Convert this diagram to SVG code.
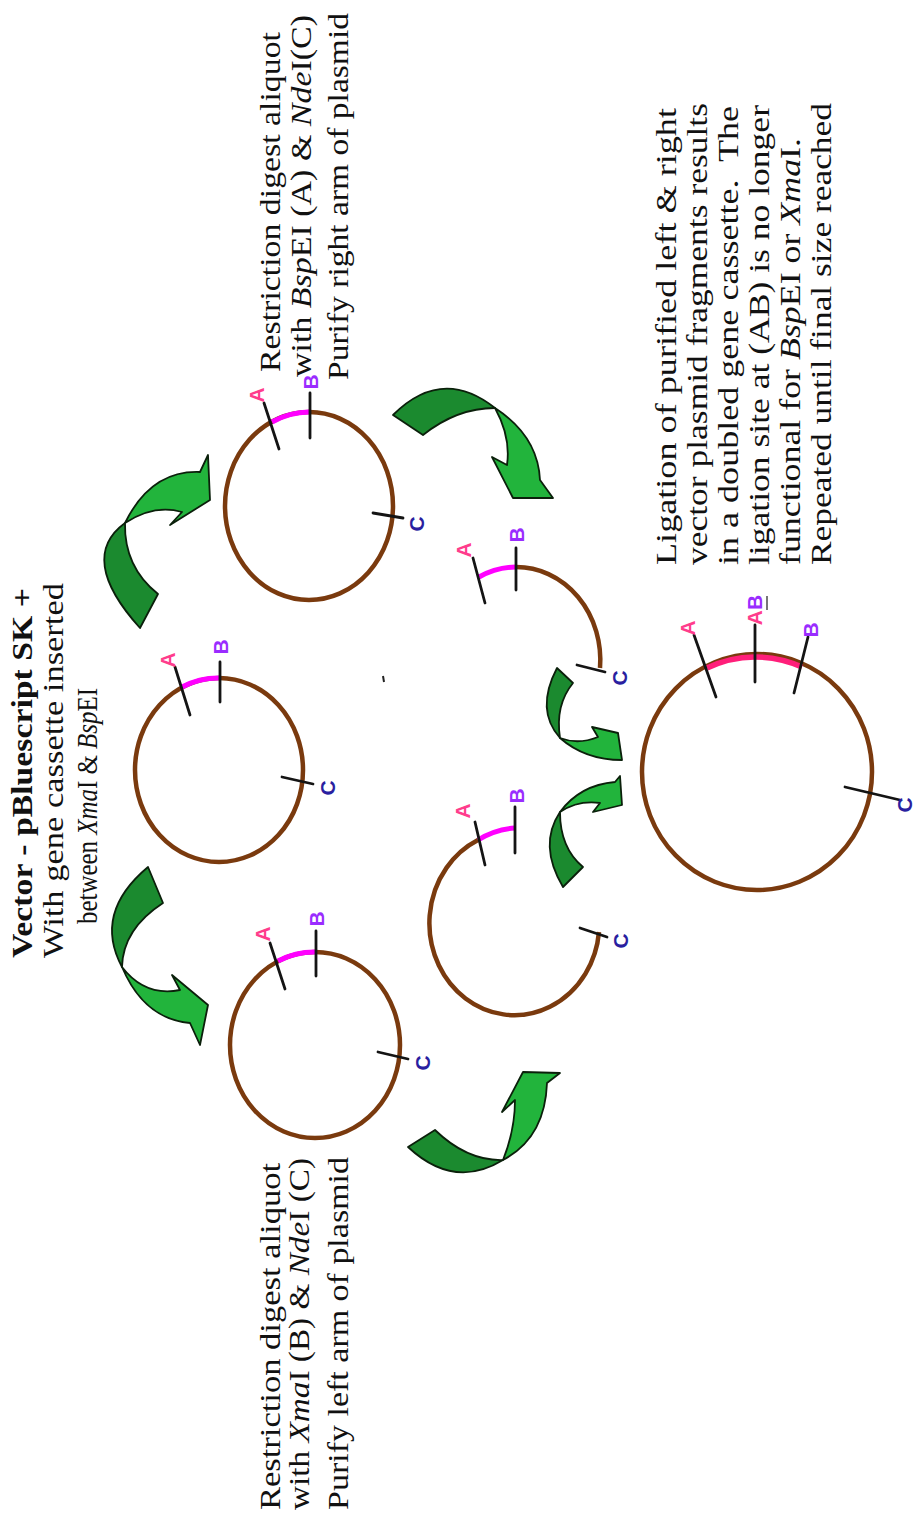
<svg xmlns="http://www.w3.org/2000/svg" width="913" height="1515" viewBox="0 0 913 1515">
<style>
.ring{fill:none;stroke:#7a3a0e;stroke-width:4.5}
.ins{fill:none;stroke:#ff00ff;stroke-width:5}
.ins2{fill:none;stroke:#ff1f7a;stroke-width:5.5}
.tick{stroke:#141414;stroke-width:2.8;stroke-linecap:round}
.lbl{font-family:"Liberation Sans",Arial,sans-serif;font-size:21px;font-weight:bold;text-anchor:middle;dominant-baseline:central}
.la{fill:#ff3c8c}
.lb{fill:#9a2cff}
.lc{fill:#2a1fa0}
.t{font-family:"Liberation Serif","Times New Roman",serif;font-size:30px;fill:#111}
.tr{font-family:"Liberation Serif","Times New Roman",serif;font-size:29px;fill:#111}
.b{font-weight:bold}
.i{font-style:italic}
.dk{fill:#1b8a2f;stroke:#0b200b;stroke-width:1.8;stroke-linejoin:round}
.lt{fill:#22b43c;stroke:#0b200b;stroke-width:1.8;stroke-linejoin:round}
</style>

<g id="text-vector">
<text class="t b" transform="translate(32,958) rotate(-90)" textLength="370" lengthAdjust="spacingAndGlyphs">Vector - pBluescript SK +</text>
<text class="t" transform="translate(63,958) rotate(-90)" textLength="375" lengthAdjust="spacingAndGlyphs">With gene cassette inserted</text>
<text class="t" transform="translate(97,924) rotate(-90)" textLength="236" lengthAdjust="spacingAndGlyphs">between <tspan class="i">Xma</tspan>I &amp; <tspan class="i">Bsp</tspan>EI</text>
</g>

<g id="text-right-arm">
<text class="t" transform="translate(280,372) rotate(-90)" textLength="340" lengthAdjust="spacingAndGlyphs">Restriction  digest aliquot</text>
<text class="t" transform="translate(311,377) rotate(-90)" textLength="362" lengthAdjust="spacingAndGlyphs">with <tspan class="i">Bsp</tspan>EI (A) &amp; <tspan class="i">Nde</tspan>I(C)</text>
<text class="t" transform="translate(348,380) rotate(-90)" textLength="367" lengthAdjust="spacingAndGlyphs">Purify right arm of plasmid</text>
</g>

<g id="text-left-arm">
<text class="t" transform="translate(280,1510) rotate(-90)" textLength="347" lengthAdjust="spacingAndGlyphs">Restriction digest aliquot</text>
<text class="t" transform="translate(309,1510) rotate(-90)" textLength="352" lengthAdjust="spacingAndGlyphs">with <tspan class="i">Xma</tspan>I (B) &amp; <tspan class="i">Nde</tspan>I (C)</text>
<text class="t" transform="translate(348,1510) rotate(-90)" textLength="353" lengthAdjust="spacingAndGlyphs">Purify left arm of plasmid</text>
</g>

<g id="text-ligation">
<text class="tr" transform="translate(676,565) rotate(-90)" textLength="457" lengthAdjust="spacingAndGlyphs">Ligation of purified left &amp; right</text>
<text class="tr" transform="translate(707,565) rotate(-90)" textLength="462" lengthAdjust="spacingAndGlyphs">vector plasmid fragments results</text>
<text class="tr" transform="translate(738,565) rotate(-90)" textLength="459" lengthAdjust="spacingAndGlyphs">in a doubled gene cassette.&#160; The</text>
<text class="tr" transform="translate(769,565) rotate(-90)" textLength="460" lengthAdjust="spacingAndGlyphs">ligation site at (AB) is no longer</text>
<text class="tr" transform="translate(800,565) rotate(-90)" textLength="427" lengthAdjust="spacingAndGlyphs">functional for <tspan class="i">Bsp</tspan>EI or <tspan class="i">Xma</tspan>I.</text>
<text class="tr" transform="translate(831,565) rotate(-90)" textLength="462" lengthAdjust="spacingAndGlyphs">Repeated  until final size reached</text>
</g>

<g id="plasmid-vector">
<ellipse class="ring" cx="219" cy="770" rx="84" ry="92"/>
<path class="ins" d="M182,687 A84,92 0 0,1 219,678"/>
<line class="tick" x1="175" y1="667" x2="190" y2="715"/>
<line class="tick" x1="220" y1="662" x2="220" y2="702"/>
<line class="tick" x1="282" y1="777" x2="313" y2="784"/>
<text class="lbl la" transform="translate(167,660) rotate(-90)">A</text>
<text class="lbl lb" transform="translate(220,647) rotate(-90)">B</text>
<text class="lbl lc" transform="translate(327,788) rotate(-90)">C</text>
</g>

<g id="plasmid-right-digest">
<ellipse class="ring" cx="309" cy="506" rx="84" ry="94"/>
<path class="ins" d="M272,422 A84,94 0 0,1 309,412"/>
<line class="tick" x1="264" y1="403" x2="279" y2="449"/>
<line class="tick" x1="310" y1="393" x2="310" y2="438"/>
<line class="tick" x1="373" y1="513" x2="403" y2="518"/>
<text class="lbl la" transform="translate(256,395) rotate(-90)">A</text>
<text class="lbl lb" transform="translate(310,382) rotate(-90)">B</text>
<text class="lbl lc" transform="translate(416,524) rotate(-90)">C</text>
</g>

<g id="plasmid-left-digest">
<ellipse class="ring" cx="315" cy="1045" rx="85" ry="93"/>
<path class="ins" d="M278,961 A85,93 0 0,1 315,952"/>
<line class="tick" x1="270" y1="943" x2="285" y2="989"/>
<line class="tick" x1="316" y1="931" x2="316" y2="976"/>
<line class="tick" x1="378" y1="1052" x2="408" y2="1059"/>
<text class="lbl la" transform="translate(262,934) rotate(-90)">A</text>
<text class="lbl lb" transform="translate(316,919) rotate(-90)">B</text>
<text class="lbl lc" transform="translate(422,1063) rotate(-90)">C</text>
</g>

<g id="fragment-right-arm">
<path class="ins" d="M479,577 A84,93 0 0,1 516,567"/>
<path class="ring" d="M516,567 A84,93 0 0,1 600,668"/>
<line class="tick" x1="473" y1="558" x2="485" y2="603"/>
<line class="tick" x1="516" y1="548" x2="516" y2="590"/>
<line class="tick" x1="577" y1="665" x2="605" y2="672"/>
<text class="lbl la" transform="translate(463,550) rotate(-90)">A</text>
<text class="lbl lb" transform="translate(516,535) rotate(-90)">B</text>
<text class="lbl lc" transform="translate(619,678) rotate(-90)">C</text>
</g>

<g id="fragment-left-arm">
<path class="ins" d="M478,840 A85,92 0 0,1 515,828"/>
<path class="ring" d="M478,840 A85,92 0 1,0 599,932"/>
<line class="tick" x1="475" y1="822" x2="485" y2="865"/>
<line class="tick" x1="515" y1="807" x2="515" y2="853"/>
<line class="tick" x1="580" y1="928" x2="607" y2="937"/>
<text class="lbl la" transform="translate(462,811) rotate(-90)">A</text>
<text class="lbl lb" transform="translate(516,796) rotate(-90)">B</text>
<text class="lbl lc" transform="translate(620,941) rotate(-90)">C</text>
</g>

<g id="plasmid-doubled">
<ellipse class="ring" cx="757" cy="772" rx="115" ry="118"/>
<path class="ins2" d="M707,668 A115,118 0 0,1 802,667"/>
<line class="tick" x1="694" y1="635" x2="716" y2="697"/>
<line class="tick" x1="755" y1="625" x2="755" y2="682"/>
<line class="tick" x1="808" y1="637" x2="794" y2="693"/>
<line class="tick" x1="845" y1="787" x2="900" y2="800"/>
<text class="lbl la" transform="translate(687,628) rotate(-90)">A</text>
<text class="lbl" transform="translate(754,610) rotate(-90)"><tspan fill="#ff3c8c">A</tspan><tspan fill="#9a2cff">B</tspan></text>
<line x1="767" y1="596" x2="767" y2="610" stroke="#555" stroke-width="1.6"/>
<text class="lbl lb" transform="translate(810,630) rotate(-90)">B</text>
<text class="lbl lc" transform="translate(904,805) rotate(-90)">C</text>
</g>

<g id="mark">
<line x1="383" y1="676" x2="384" y2="682" stroke="#222" stroke-width="2"/>
</g>

<g id="connectors">
<g id="arrow-vector-to-right">
<path class="dk" d="M140,628 Q77,558 125,523 Q124,567 158,594 Z"/>
<path class="lt" d="M125,523 Q151,470 200,472 L208,455 L210,500 L170,525 L182,512 Q154,504 125,523 Z"/>
</g>
<g id="arrow-vector-to-left">
<path class="dk" d="M148,867 Q93,913 122,967 Q123,929 163,903 Z"/>
<path class="lt" d="M122,967 Q144,1019 190,1023 L200,1045 L208,1005 L172,975 L180,990 Q145,997 122,967 Z"/>
</g>
<g id="arrow-right-to-fragment">
<path class="dk" d="M393,415 Q442,366 495,408 Q457,408 423,435 Z"/>
<path class="lt" d="M495,408 Q538,436 540,480 L553,498 L513,498 L492,457 L507,465 Q511,437 495,408 Z"/>
</g>
<g id="arrow-left-to-fragment">
<path class="dk" d="M408,1147 Q454,1190 503,1160 Q467,1161 435,1130 Z"/>
<path class="lt" d="M503,1160 Q545,1138 547,1083 L560,1073 L523,1072 L502,1112 L515,1100 Q515,1130 503,1160 Z"/>
</g>
<g id="arrow-right-fragment-to-ligation">
<path class="dk" d="M557,668 Q535,710 560,738 Q555,705 573,683 Z"/>
<path class="lt" d="M560,738 Q585,760 622,760 L618,733 L592,727 L598,737 Q578,745 560,738 Z"/>
</g>
<g id="arrow-left-fragment-to-ligation">
<path class="dk" d="M563,887 Q538,845 560,812 Q560,848 583,867 Z"/>
<path class="lt" d="M560,812 Q580,785 615,782 L620,776 L622,805 L593,812 L600,803 Q578,800 560,812 Z"/>
</g>
</g>
</svg>
